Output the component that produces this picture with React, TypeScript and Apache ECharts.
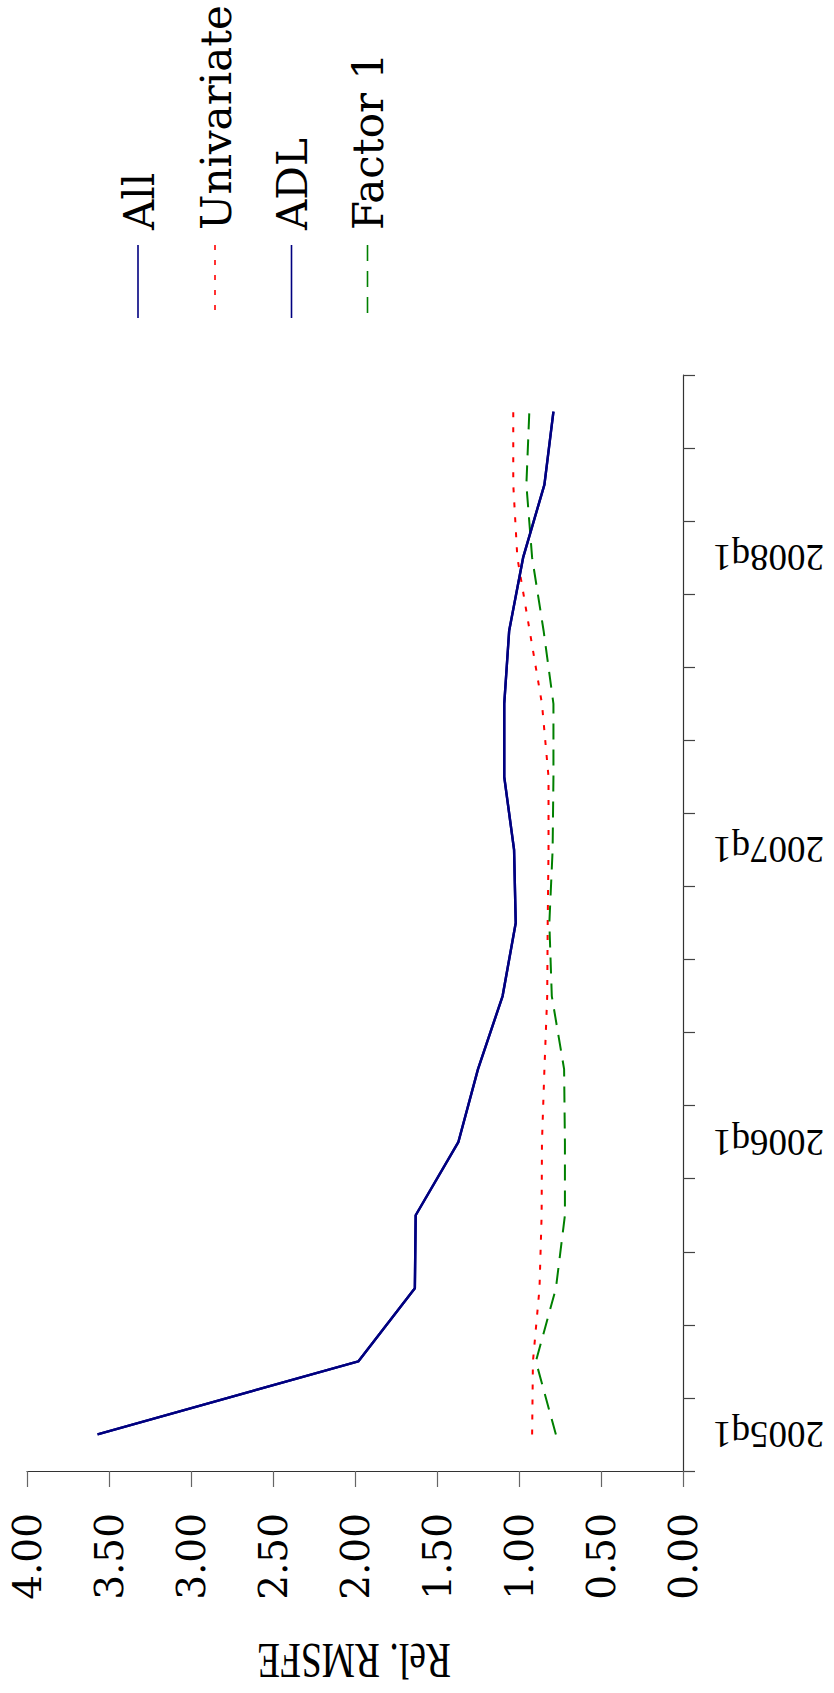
import React, { useEffect, useRef } from "react";
import * as echarts from "echarts";

// Quarters shown on the (vertical, right-hand) time axis, bottom to top
const quarters = [
  "2005q1", "2005q2", "2005q3", "2005q4",
  "2006q1", "2006q2", "2006q3", "2006q4",
  "2007q1", "2007q2", "2007q3", "2007q4",
  "2008q1", "2008q2", "2008q3",
];

// Relative RMSFE by quarter
const allValues = [3.57, 1.98, 1.635, 1.63, 1.37, 1.25, 1.1, 1.02, 1.03, 1.09, 1.09, 1.06, 0.975, 0.845, 0.79];
const univariateValues = [0.92, 0.915, 0.875, 0.862, 0.86, 0.845, 0.828, 0.825, 0.82, 0.82, 0.86, 0.935, 1.01, 1.035, 1.035];
const adlValues = [3.57, 1.98, 1.635, 1.63, 1.37, 1.25, 1.1, 1.02, 1.03, 1.09, 1.09, 1.06, 0.975, 0.845, 0.79];
const factor1Values = [0.775, 0.897, 0.775, 0.72, 0.72, 0.725, 0.8, 0.815, 0.795, 0.79, 0.79, 0.85, 0.92, 0.955, 0.937];

const seriesNames = ["All", "Univariate", "ADL", "Factor 1"];
const axisTitle = "Rel. RMSFE";
const valueMin = 0;
const valueMax = 4;
const valueStep = 0.5;

const seriesColors = ["#000080", "#ff0000", "#000080", "#008000"];
const seriesDash: any[] = ["solid", [5, 10], "solid", [16, 10]];
const seriesWidths = [2.4, 2, 2.4, 2];

export default function App() {
  const ref = useRef<HTMLDivElement>(null);

  useEffect(() => {
    if (!ref.current) return;
    const chart = echarts.init(ref.current, null, { renderer: "svg" });

    const dataSets = [allValues, univariateValues, adlValues, factor1Values];

    // Legend drawn with rotated texts (vertical orientation of the figure)
    const legendX = [138, 215, 291.5, 367.5];
    const graphics: any[] = [];
    seriesNames.forEach((name, i) => {
      graphics.push({
        type: "line",
        shape: { x1: legendX[i], y1: 245, x2: legendX[i], y2: 318 },
        style: {
          stroke: seriesColors[i],
          lineWidth: 1.6,
          lineDash: seriesDash[i] === "solid" ? null : seriesDash[i],
        },
      });
      graphics.push({
        type: "text",
        x: legendX[i] + 1,
        y: 230,
        rotation: Math.PI / 2,
        style: {
          text: name,
          fill: "#000",
          font: "42px 'DejaVu Serif'",
          align: "left",
          verticalAlign: "middle",
        },
      });
    });

    // Value-axis title, upside down and slightly condensed as in the figure
    graphics.push({
      type: "text",
      x: 354,
      y: 1660,
      rotation: Math.PI,
      scaleX: 0.75,
      style: {
        text: axisTitle,
        fill: "#000",
        font: "50px 'Liberation Serif'",
        align: "center",
        verticalAlign: "middle",
      },
    });

    chart.setOption({
      animation: false,
      backgroundColor: "#fff",
      grid: { left: 27, right: 151, top: 375, bottom: 222, containLabel: false },
      xAxis: {
        type: "value",
        min: valueMin,
        max: valueMax,
        interval: valueStep,
        inverse: true,
        position: "bottom",
        axisLine: { show: true, onZero: false, lineStyle: { color: "#333", width: 1.2 } },
        axisTick: { show: true, length: 16, lineStyle: { color: "#666", width: 1.2 } },
        splitLine: { show: false },
        axisLabel: {
          rotate: 90,
          margin: 42,
          color: "#000",
          fontFamily: "DejaVu Serif",
          fontSize: 39,
          formatter: (v: number) => v.toFixed(2),
        },
      },
      yAxis: {
        type: "category",
        data: quarters,
        position: "right",
        boundaryGap: true,
        axisLine: { show: true, onZero: false, lineStyle: { color: "#333", width: 1.2 } },
        axisTick: { show: true, interval: 0, length: 12, lineStyle: { color: "#444", width: 1.2 } },
        splitLine: { show: false },
        axisLabel: {
          rotate: 180,
          margin: 30,
          color: "#000",
          fontFamily: "Liberation Serif",
          fontSize: 37,
          interval: (index: number) => quarters[index].endsWith("q1"),
        },
      },
      series: seriesNames.map((name, i) => ({
        name,
        type: "line",
        data: dataSets[i],
        showSymbol: false,
        symbol: "none",
        z: seriesColors[i] === "#000080" ? 4 : 2,
        lineStyle: { color: seriesColors[i], width: seriesWidths[i], type: seriesDash[i] },
      })),
      graphic: graphics,
    });

    return () => chart.dispose();
  }, []);

  return (
    <div
      ref={ref}
      style={{ position: "absolute", left: 0, top: 0, width: 834, height: 1693 }}
    />
  );
}
